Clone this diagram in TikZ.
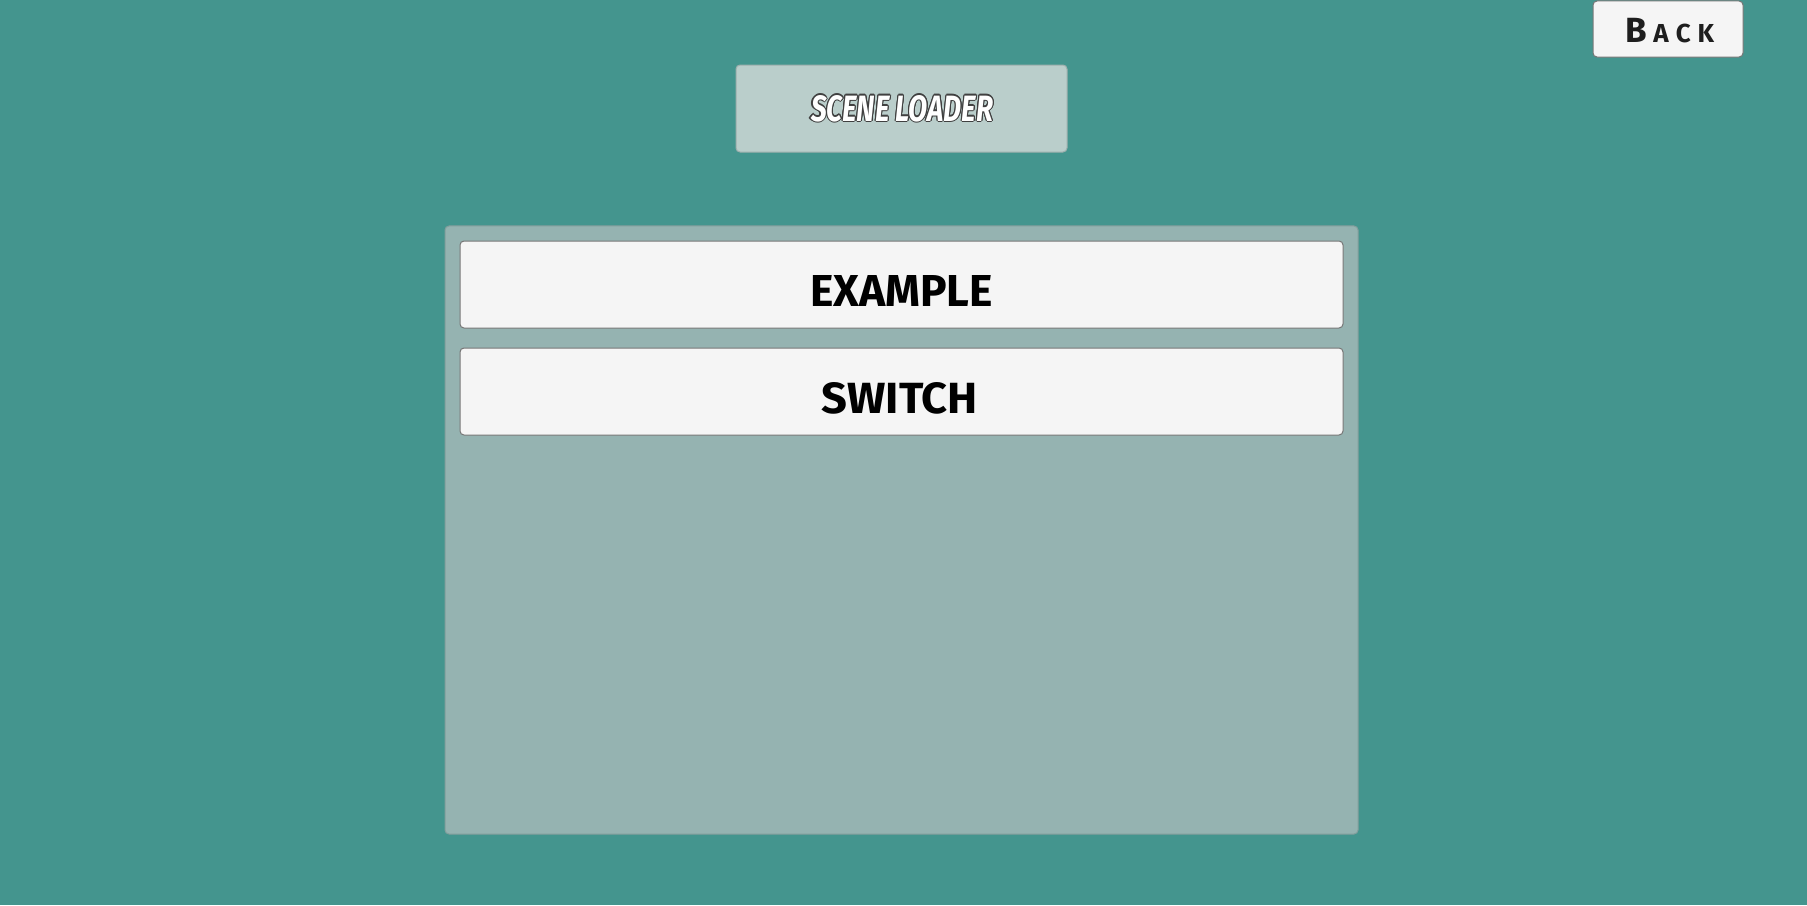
\documentclass[tikz,border=0pt]{standalone}
\usepackage{fontspec}
\setmainfont{Fira Sans}
\usepackage{graphicx}
\usetikzlibrary{calc}

\definecolor{bgteal}{HTML}{44958E}
\definecolor{listgray}{HTML}{95B3B1}
\definecolor{titlegray}{HTML}{BACECB}
\definecolor{btnwhite}{HTML}{F5F5F5}
\definecolor{edgegray}{HTML}{767676}
\definecolor{backink}{HTML}{1E1E1E}

\begin{document}
\begin{tikzpicture}[x=1bp,y=-1bp,
        box/.style={draw=edgegray,line width=1bp,rounded corners=4bp,inner sep=0pt},
        btn/.style={box,fill=btnwhite,minimum width=883bp,minimum height=87bp},
        lbl/.style={anchor=base,inner sep=0pt,font=\bfseries}]
    \useasboundingbox[fill=bgteal] (0,0) rectangle (1807,905);

    \node[box,fill=listgray,draw=listgray!88!black,minimum width=913bp,minimum height=608bp] (list) at (901.5,530) {};
    \node[box,fill=titlegray,draw=titlegray!85!black,minimum width=331bp,minimum height=87bp] (title) at (901.5,108.5) {};
    \node[btn] (example) at (901.5,284.5) {};
    \node[btn] (switch) at (901.5,391.5) {};
    \node[box,fill=btnwhite,minimum width=150bp,minimum height=56bp] (back) at (1668,29) {};

    % outlined title text
    \foreach \a in {0,30,...,330}
        \node[lbl,text=black!75] (shadow\a) at ($(902,121)+(\a:1.1)$) {\resizebox{182bp}{26bp}{\itshape SCENE LOADER}};
    \node[lbl,text=white] (titletext) at (902,121) {\resizebox{182bp}{26bp}{\itshape SCENE LOADER}};

    \node[lbl] (exampletext) at (901.5,306) {\resizebox{183bp}{31bp}{EXAMPLE}};
    \node[lbl] (switchtext) at (900,413) {\resizebox{156bp}{31bp}{SWITCH}};

    \node[lbl,text=backink] (backtext) at (1670,42)
        {\fontsize{35bp}{35bp}\selectfont B\hspace{6bp}\fontsize{26bp}{26bp}\selectfont A\hspace{7bp}C\hspace{7bp}K};
\end{tikzpicture}
\end{document}
